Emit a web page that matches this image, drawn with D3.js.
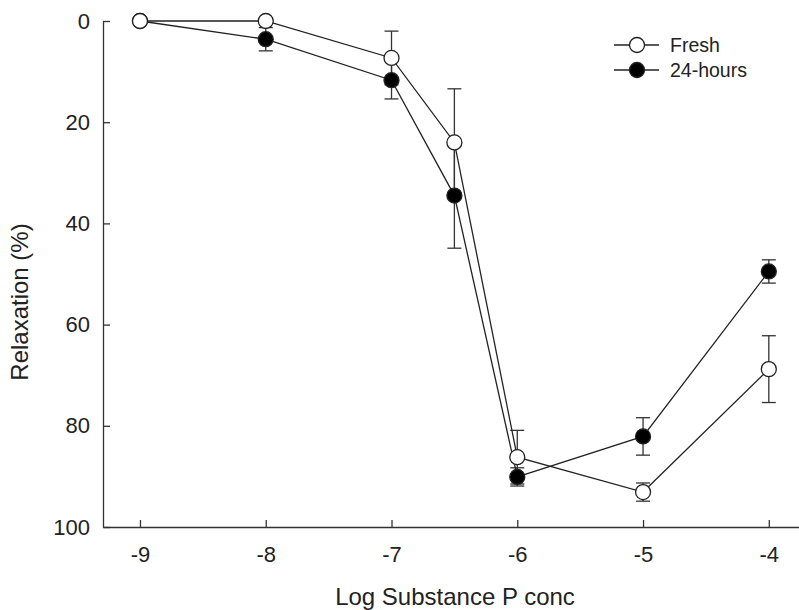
<!DOCTYPE html>
<html>
<head>
    <meta charset="utf-8">
    <title>Relaxation vs Log Substance P conc</title>
    <script src="https://d3js.org/d3.v7.min.js"></script>
    <style>
        body {
            margin: 0;
            background: #fff;
            font-family: Arial, "Liberation Sans", sans-serif;
        }
        .axis path, .axis line {
            stroke: #333;
            stroke-width: 1.3px;
        }
        .axis text {
            font-size: 22px;
            fill: #222;
            font-family: Arial, "Liberation Sans", sans-serif;
        }
        .title {
            font-size: 24px;
            fill: #222;
        }
    </style>
</head>
<body>
    <div id="chart"></div>
    <script>
        // Data
        const logConc = [-9, -8, -7, -6.5, -6, -5, -4];
        const freshMean = [0, 0, 7.3, 24, 86.2, 93.1, 68.8];
        const freshErr = [0, 0, 5.3, 10.6, 5.3, 1.8, 6.6];
        const hoursMean = [0, 3.6, 11.7, 34.5, 90.1, 82.1, 49.5];
        const hoursErr = [0, 2.3, 3.7, 10.4, 1.8, 3.7, 2.3];
        const xTicks = [-9, -8, -7, -6, -5, -4];
        const yTicks = [0, 20, 40, 60, 80, 100];

        const series = [
            { name: "Fresh", mean: freshMean, err: freshErr, fill: "#fff" },
            { name: "24-hours", mean: hoursMean, err: hoursErr, fill: "#000" }
        ];

        const width = 799, height = 610;
        const svg = d3.select("#chart")
            .append("svg")
            .attr("width", width)
            .attr("height", height);

        const x = d3.scaleLinear().domain([-9.294, -3.76]).range([103, 799]);
        const y = d3.scaleLinear().domain([0, 100]).range([21, 527]);

        // Axes (ticks point inward), plain hyphen labels
        svg.append("g")
            .attr("class", "axis")
            .attr("transform", `translate(0,${y(100)})`)
            .call(d3.axisBottom(x).tickValues(xTicks).tickFormat(d => String(d))
                .tickSize(-7).tickPadding(27).tickSizeOuter(0))
            .call(g => g.selectAll("text").attr("dy", "0.35em"));

        svg.append("g")
            .attr("class", "axis")
            .attr("transform", `translate(${x.range()[0]},0)`)
            .call(d3.axisLeft(y).tickValues(yTicks).tickFormat(d => String(d))
                .tickSize(-7).tickPadding(13).tickSizeOuter(0));

        // Error bars
        const cap = 7;
        series.forEach(s => {
            const g = svg.append("g").attr("stroke", "#333").attr("stroke-width", 1.3);
            logConc.forEach((c, i) => {
                if (!s.err[i]) return;
                const cx = x(c), y1 = y(s.mean[i] - s.err[i]), y2 = y(s.mean[i] + s.err[i]);
                g.append("line").attr("x1", cx).attr("x2", cx).attr("y1", y1).attr("y2", y2);
                g.append("line").attr("x1", cx - cap).attr("x2", cx + cap).attr("y1", y1).attr("y2", y1);
                g.append("line").attr("x1", cx - cap).attr("x2", cx + cap).attr("y1", y2).attr("y2", y2);
            });
        });

        // Lines
        const line = d3.line().x(d => x(d[0])).y(d => y(d[1]));
        series.forEach(s => {
            svg.append("path")
                .datum(logConc.map((c, i) => [c, s.mean[i]]))
                .attr("fill", "none")
                .attr("stroke", "#222")
                .attr("stroke-width", 1.3)
                .attr("d", line);
        });

        // Markers: filled series first so open circles sit on top
        series.slice().reverse().forEach(s => {
            svg.append("g")
                .selectAll("circle")
                .data(logConc.map((c, i) => [c, s.mean[i]]))
                .enter()
                .append("circle")
                .attr("cx", d => x(d[0]))
                .attr("cy", d => y(d[1]))
                .attr("r", 7.5)
                .attr("fill", s.fill)
                .attr("stroke", "#222")
                .attr("stroke-width", 1.3);
        });

        // Axis titles
        svg.append("text")
            .attr("class", "title")
            .attr("x", 455)
            .attr("y", 605)
            .attr("text-anchor", "middle")
            .text("Log Substance P conc");

        svg.append("text")
            .attr("class", "title")
            .attr("transform", "translate(28,302) rotate(-90)")
            .attr("text-anchor", "middle")
            .text("Relaxation (%)");

        // Legend
        const legend = svg.append("g");
        series.forEach((s, i) => {
            const ly = 45 + i * 25;
            legend.append("line")
                .attr("x1", 614).attr("x2", 659)
                .attr("y1", ly).attr("y2", ly)
                .attr("stroke", "#222").attr("stroke-width", 1.3);
            legend.append("circle")
                .attr("cx", 637).attr("cy", ly).attr("r", 7.5)
                .attr("fill", s.fill).attr("stroke", "#222").attr("stroke-width", 1.3);
            legend.append("text")
                .attr("x", 670).attr("y", ly)
                .attr("dy", "0.35em")
                .style("font-size", "19.5px")
                .style("fill", "#222")
                .text(s.name);
        });
    </script>
</body>
</html>
